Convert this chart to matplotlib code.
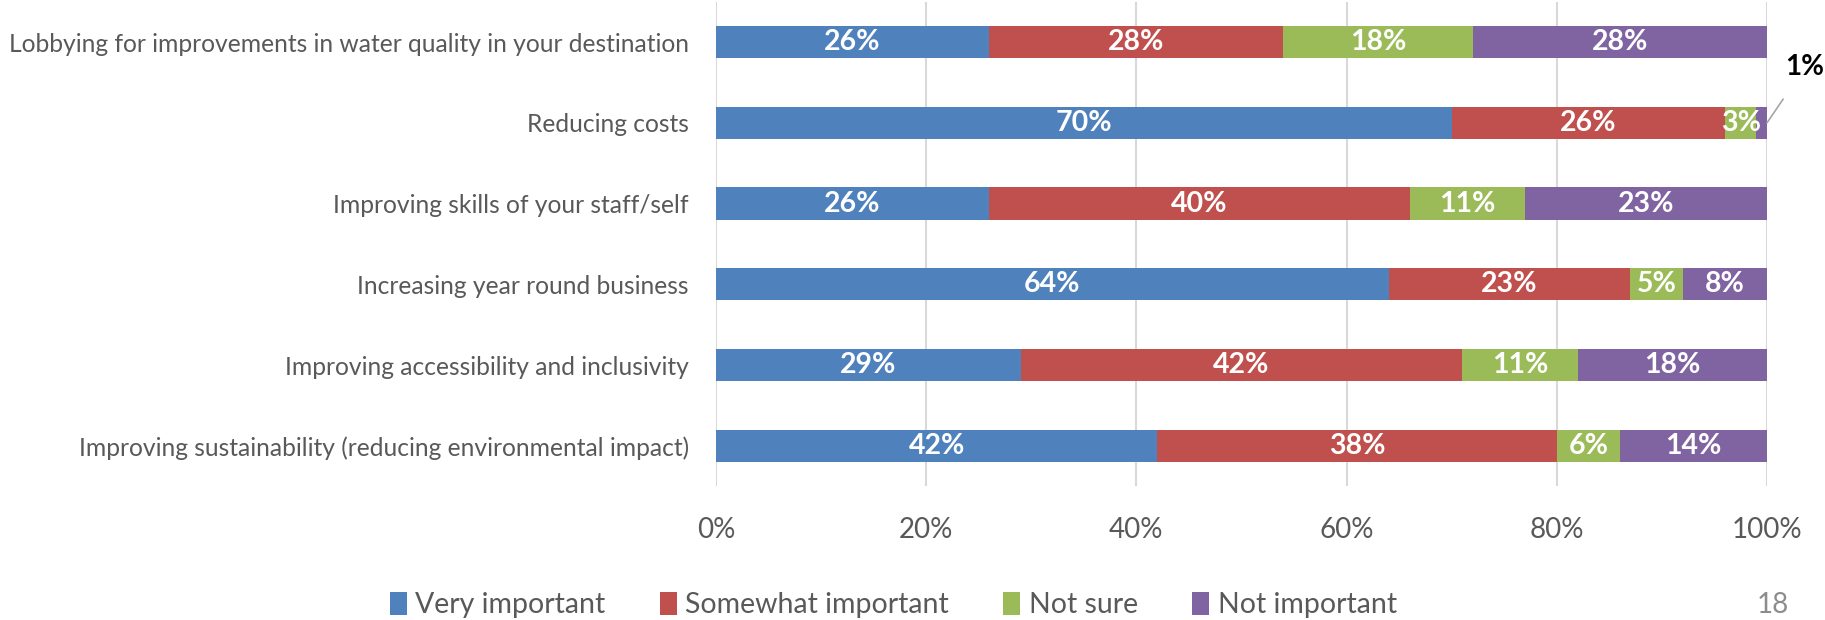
import matplotlib
matplotlib.use("Agg")
import matplotlib.pyplot as plt
import numpy as np

plt.rcParams['font.family'] = ['Lato', 'DejaVu Sans']

categories = [
    'Lobbying for improvements in water quality in your destination',
    'Reducing costs',
    'Improving skills of your staff/self',
    'Increasing year round business',
    'Improving accessibility and inclusivity',
    'Improving sustainability (reducing environmental impact)',
]
very_important = [26, 70, 26, 64, 29, 42]
somewhat_important = [28, 26, 40, 23, 42, 38]
not_sure = [18, 3, 11, 5, 11, 6]
not_important = [28, 1, 23, 8, 18, 14]

series = [
    ('Very important', very_important, '#4F81BD'),
    ('Somewhat important', somewhat_important, '#C0504D'),
    ('Not sure', not_sure, '#9BBB59'),
    ('Not important', not_important, '#8064A2'),
]
text_grey = '#595959'

fig = plt.figure(figsize=(18.25, 6.2), dpi=100)
ax = fig.add_axes([0.3923, 0.216, 0.5759, 0.781])

y = np.arange(len(categories))
left = np.zeros(len(categories))
for name, vals, color in series:
    vals = np.array(vals, dtype=float)
    ax.barh(y, vals, left=left, height=0.4, color=color, label=name, zorder=3)
    for yi, (l, v) in enumerate(zip(left, vals)):
        if v >= 3:
            ax.text(l + v / 2, yi, f'{int(v)}%', ha='center', va='center',
                    color='white', fontsize=20.5, fontweight='bold', zorder=4)
    left += vals

# small slice gets a callout outside the bar
row = 1
ax.annotate(f'{not_important[row]}%', xy=(100, row), xytext=(103.6, row - 0.69),
            ha='center', va='center', fontsize=20, fontweight='bold', color='black',
            annotation_clip=False,
            arrowprops=dict(arrowstyle='-', color='#A6A6A6', lw=1.2,
                            shrinkA=14, shrinkB=0))

ax.set_xlim(0, 100)
ax.set_ylim(len(categories) - 0.5, -0.5)
ax.set_yticks(y)
ax.set_yticklabels(categories, fontsize=17.7, color=text_grey)
ax.set_xticks(np.arange(0, 101, 20))
ax.set_xticklabels([f'{v}%' for v in range(0, 101, 20)], fontsize=20, color=text_grey)
ax.tick_params(axis='both', length=0)
ax.tick_params(axis='y', pad=19.5)
ax.tick_params(axis='x', pad=22)
ax.grid(axis='x', color='#D9D9D9', lw=1.5, zorder=0)
for s in ax.spines.values():
    s.set_visible(False)

fig.legend(loc='center', bbox_to_anchor=(0.4895, 0.024), ncol=4, frameon=False,
           fontsize=20.5, labelcolor=text_grey, handlelength=0.6, handleheight=0.9,
           handletextpad=0.3, columnspacing=1.9)
fig.text(0.9715, 0.024, '18', ha='center', va='center', fontsize=20, color='#8C8C8C')

fig.savefig('out.png', dpi=100)
